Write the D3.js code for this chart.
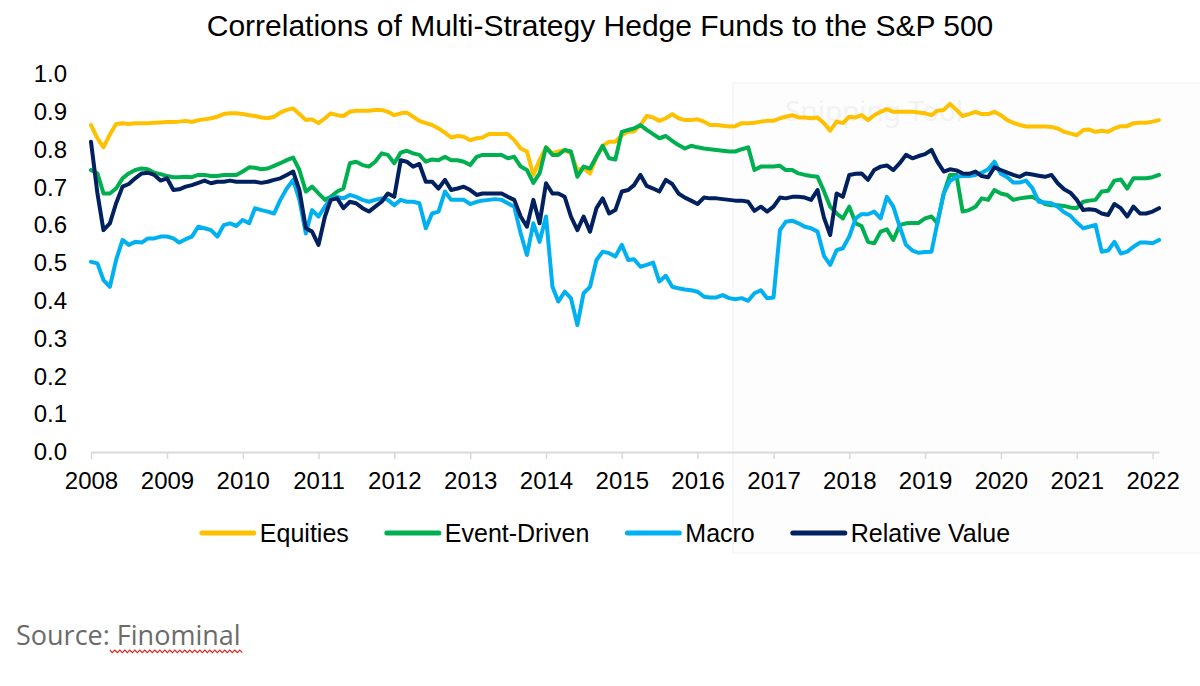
<!DOCTYPE html>
<html>
<head>
<meta charset="utf-8">
<script src="https://cdn.jsdelivr.net/npm/d3@7"></script>
<style>
  html, body { margin: 0; padding: 0; background: #ffffff; }
  svg { display: block; }
</style>
</head>
<body>
<svg id="chart" width="1200" height="686"></svg>
<script>
// ---------------- DATA (monthly, Jan 2008 – Feb 2022) ----------------
const startMonth = "2008-01";
const seriesNames = ["Equities", "Event-Driven", "Macro", "Relative Value"];
const yTickLabels = ["0.0","0.1","0.2","0.3","0.4","0.5","0.6","0.7","0.8","0.9","1.0"];
const xTickYears = [2008,2009,2010,2011,2012,2013,2014,2015,2016,2017,2018,2019,2020,2021,2022];
const titleText = "Correlations of Multi-Strategy Hedge Funds to the S&P 500";
const sourceLabel = "Source: ";
const sourceName = "Finominal";

const equities = [
  0.865,0.830,0.806,0.840,0.868,0.870,0.868,0.870,0.870,0.870,0.871,0.872,
  0.873,0.873,0.874,0.876,0.873,0.878,0.880,0.883,0.887,0.894,0.896,0.896,
  0.894,0.891,0.889,0.885,0.883,0.887,0.898,0.905,0.909,0.894,0.878,0.880,
  0.870,0.883,0.896,0.891,0.889,0.900,0.903,0.903,0.903,0.905,0.905,0.900,
  0.891,0.896,0.898,0.887,0.876,0.870,0.865,0.856,0.845,0.832,0.836,0.834,
  0.825,0.830,0.832,0.841,0.841,0.841,0.841,0.825,0.803,0.795,0.733,0.773,
  0.806,0.790,0.795,0.799,0.790,0.746,0.750,0.737,0.781,0.810,0.821,0.821,
  0.838,0.847,0.848,0.865,0.889,0.885,0.876,0.883,0.894,0.883,0.878,0.878,
  0.880,0.874,0.865,0.865,0.863,0.861,0.862,0.870,0.870,0.871,0.874,0.876,
  0.876,0.883,0.887,0.891,0.885,0.885,0.883,0.885,0.870,0.850,0.874,0.870,
  0.887,0.885,0.891,0.878,0.891,0.900,0.907,0.900,0.900,0.900,0.900,0.898,
  0.896,0.891,0.903,0.905,0.921,0.905,0.889,0.894,0.900,0.894,0.894,0.900,
  0.891,0.878,0.871,0.865,0.861,0.861,0.861,0.861,0.860,0.856,0.847,0.843,
  0.838,0.852,0.853,0.847,0.850,0.847,0.856,0.862,0.862,0.870,0.871,0.871,
  0.874,0.878
];
const eventDriven = [
  0.746,0.737,0.684,0.684,0.697,0.724,0.737,0.746,0.750,0.748,0.739,0.735,
  0.730,0.727,0.727,0.728,0.727,0.733,0.733,0.730,0.730,0.733,0.733,0.733,
  0.742,0.753,0.752,0.748,0.750,0.757,0.764,0.772,0.779,0.746,0.689,0.702,
  0.684,0.667,0.675,0.689,0.697,0.764,0.768,0.759,0.755,0.768,0.790,0.786,
  0.764,0.792,0.797,0.790,0.786,0.768,0.774,0.772,0.781,0.772,0.772,0.768,
  0.759,0.781,0.786,0.786,0.786,0.786,0.777,0.781,0.755,0.746,0.712,0.737,
  0.806,0.786,0.786,0.799,0.795,0.728,0.755,0.750,0.781,0.810,0.777,0.774,
  0.847,0.852,0.856,0.865,0.852,0.841,0.830,0.836,0.823,0.812,0.803,0.810,
  0.806,0.803,0.801,0.799,0.797,0.795,0.795,0.801,0.806,0.746,0.755,0.755,
  0.755,0.757,0.746,0.746,0.737,0.733,0.730,0.728,0.690,0.649,0.631,0.618,
  0.649,0.605,0.598,0.556,0.552,0.583,0.589,0.561,0.600,0.605,0.606,0.606,
  0.618,0.623,0.605,0.684,0.733,0.733,0.636,0.640,0.649,0.671,0.667,0.693,
  0.684,0.680,0.667,0.671,0.673,0.675,0.667,0.656,0.653,0.653,0.651,0.647,
  0.645,0.662,0.665,0.667,0.689,0.691,0.718,0.721,0.697,0.724,0.724,0.724,
  0.727,0.733
];
const macro = [
  0.503,0.499,0.455,0.437,0.508,0.561,0.548,0.556,0.554,0.565,0.565,0.570,
  0.570,0.565,0.554,0.563,0.570,0.596,0.592,0.587,0.570,0.600,0.605,0.598,
  0.614,0.605,0.645,0.640,0.636,0.631,0.667,0.697,0.720,0.667,0.578,0.640,
  0.623,0.649,0.671,0.675,0.671,0.680,0.675,0.667,0.662,0.667,0.671,0.667,
  0.653,0.667,0.662,0.662,0.658,0.592,0.631,0.636,0.689,0.667,0.667,0.667,
  0.656,0.662,0.665,0.667,0.669,0.667,0.658,0.649,0.578,0.521,0.605,0.556,
  0.623,0.437,0.398,0.424,0.407,0.336,0.420,0.437,0.508,0.530,0.526,0.517,
  0.548,0.508,0.510,0.490,0.495,0.501,0.451,0.466,0.437,0.433,0.430,0.428,
  0.424,0.411,0.409,0.409,0.415,0.407,0.404,0.407,0.400,0.420,0.428,0.407,
  0.409,0.587,0.609,0.612,0.605,0.596,0.592,0.583,0.519,0.495,0.534,0.539,
  0.570,0.618,0.629,0.629,0.636,0.618,0.675,0.649,0.596,0.548,0.533,0.527,
  0.529,0.530,0.605,0.684,0.717,0.728,0.730,0.730,0.733,0.739,0.748,0.768,
  0.736,0.727,0.713,0.713,0.718,0.698,0.662,0.660,0.658,0.649,0.634,0.625,
  0.607,0.592,0.596,0.601,0.530,0.533,0.556,0.525,0.530,0.543,0.554,0.554,
  0.552,0.561
];
const relativeValue = [
  0.821,0.684,0.587,0.605,0.658,0.702,0.709,0.724,0.737,0.739,0.733,0.718,
  0.724,0.693,0.695,0.702,0.706,0.712,0.718,0.711,0.715,0.715,0.718,0.715,
  0.715,0.715,0.715,0.712,0.715,0.720,0.724,0.733,0.742,0.693,0.592,0.583,
  0.548,0.623,0.667,0.671,0.645,0.662,0.658,0.645,0.636,0.649,0.662,0.684,
  0.675,0.772,0.768,0.755,0.762,0.715,0.715,0.697,0.720,0.693,0.697,0.702,
  0.693,0.680,0.684,0.684,0.684,0.684,0.675,0.667,0.623,0.596,0.667,0.605,
  0.711,0.684,0.684,0.675,0.623,0.587,0.623,0.583,0.645,0.671,0.631,0.640,
  0.689,0.693,0.706,0.733,0.704,0.697,0.689,0.720,0.709,0.684,0.673,0.665,
  0.656,0.673,0.671,0.671,0.669,0.667,0.665,0.665,0.662,0.638,0.649,0.636,
  0.649,0.673,0.671,0.675,0.675,0.673,0.667,0.693,0.620,0.574,0.684,0.675,
  0.733,0.736,0.737,0.720,0.746,0.755,0.758,0.746,0.764,0.786,0.777,0.783,
  0.788,0.799,0.768,0.742,0.748,0.745,0.737,0.736,0.742,0.730,0.727,0.753,
  0.746,0.739,0.733,0.728,0.737,0.734,0.731,0.728,0.733,0.711,0.695,0.686,
  0.667,0.640,0.642,0.640,0.631,0.627,0.656,0.645,0.623,0.649,0.631,0.631,
  0.636,0.645
];
const seriesColors = ["#FFC000", "#00B050", "#00B0F0", "#002060"];

// ---------------- LAYOUT ----------------
const svg = d3.select("#chart");
const W = 1200, H = 686;
const plot = { left: 91, right: 1159, top: 74, bottom: 452 };

const parseMonth = d3.timeParse("%Y-%m");
const t0 = parseMonth(startMonth);
const dates = equities.map((_, i) => d3.timeMonth.offset(t0, i));

const x = d3.scaleTime()
  .domain([t0, dates[dates.length - 1]])
  .range([plot.left, plot.right]);
const y = d3.scaleLinear().domain([0, 1]).range([plot.bottom, plot.top]);

svg.append("rect").attr("width", W).attr("height", H).attr("fill", "#ffffff");

// faint screenshot-tool overlay seen in the reference
svg.append("rect")
  .attr("x", 733).attr("y", 83).attr("width", 480).attr("height", 470)
  .attr("fill", "#fdfdfd").attr("stroke", "#f5f5f5").attr("stroke-width", 1.5);
svg.append("text")
  .attr("x", 785).attr("y", 121)
  .attr("font-family", "'Segoe UI', 'Noto Sans', 'Open Sans', sans-serif")
  .attr("font-size", 28).attr("fill", "#f2f2f2")
  .text("Snipping Tool");

// Title
svg.append("text")
  .attr("x", 600).attr("y", 36)
  .attr("text-anchor", "middle")
  .attr("font-family", "'Liberation Sans', Arial, sans-serif")
  .attr("font-size", 30).attr("fill", "#000")
  .text(titleText);

// Y axis labels (no line)
const yAxis = d3.axisLeft(y)
  .tickValues(yTickLabels.map(Number))
  .tickFormat((d, i) => yTickLabels[i])
  .tickSize(0).tickPadding(0);
const gy = svg.append("g").attr("transform", `translate(67,0)`).call(yAxis);
gy.select(".domain").remove();
gy.selectAll("text")
  .attr("font-family", "'Liberation Sans', Arial, sans-serif")
  .attr("font-size", 24).attr("fill", "#000").attr("dx", 0);

// X axis
const xAxis = d3.axisBottom(x)
  .tickValues(xTickYears.map(yr => new Date(yr, 0, 1)))
  .tickFormat(d3.timeFormat("%Y"))
  .tickSizeInner(7).tickSizeOuter(0).tickPadding(13);
const gx = svg.append("g").attr("transform", `translate(0,${plot.bottom})`).call(xAxis);
gx.select(".domain").attr("stroke", "#d9d9d9").attr("stroke-width", 2);
gx.selectAll(".tick line").attr("stroke", "#d9d9d9").attr("stroke-width", 1.5);
gx.selectAll("text")
  .attr("font-family", "'Liberation Sans', Arial, sans-serif")
  .attr("font-size", 24).attr("fill", "#000");

// Lines
const allSeries = [equities, eventDriven, macro, relativeValue];
const line = d3.line()
  .x((d, i) => x(dates[i]))
  .y(d => y(d));
allSeries.forEach((vals, k) => {
  svg.append("path")
    .datum(vals)
    .attr("fill", "none")
    .attr("stroke", seriesColors[k])
    .attr("stroke-width", 4)
    .attr("stroke-linejoin", "round")
    .attr("stroke-linecap", "round")
    .attr("d", line);
});

// Legend
const legend = svg.append("g");
const legendY = 533, swatch = 52, gapText = 6, gapItem = 38;
const items = legend.selectAll("g").data(seriesNames).join("g");
items.append("line")
  .attr("x1", 0).attr("x2", swatch).attr("y1", 0).attr("y2", 0)
  .attr("stroke", (d, i) => seriesColors[i])
  .attr("stroke-width", 5).attr("stroke-linecap", "round");
items.append("text")
  .attr("x", swatch + gapText).attr("y", 0).attr("dy", "0.35em")
  .attr("font-family", "'Liberation Sans', Arial, sans-serif")
  .attr("font-size", 25).attr("fill", "#000")
  .text(d => d);
let cursor = 0;
items.each(function () {
  const g = d3.select(this);
  const tw = g.select("text").node().getComputedTextLength();
  g.attr("transform", `translate(${cursor},${legendY})`);
  cursor += swatch + gapText + tw + gapItem;
});
const totalW = cursor - gapItem;
legend.attr("transform", `translate(${606 - totalW / 2},0)`);

// Source
const srcFont = "'Open Sans', 'Noto Sans', sans-serif";
const src = svg.append("text")
  .attr("x", 16).attr("y", 645)
  .attr("font-family", srcFont)
  .attr("font-size", 27).attr("fill", "#6b6b6b");
src.append("tspan").text(sourceLabel);
src.append("tspan").text(sourceName);

// red spell-check squiggle under the source name
const srcLen = src.node().getComputedTextLength();
const tmp = svg.append("text").attr("font-family", srcFont).attr("font-size", 27).text(sourceLabel);
const labelLen = tmp.node().getComputedTextLength();
tmp.remove();
const sx0 = 16 + labelLen, sx1 = 16 + srcLen + 4, sy = 650;
const pts = [];
for (let xx = sx0, k = 0; xx <= sx1; xx += 2.5, k++) pts.push([xx, sy + (k % 2 === 0 ? 0 : 2.6)]);
svg.append("path")
  .attr("d", d3.line()(pts))
  .attr("fill", "none").attr("stroke", "#e02020").attr("stroke-width", 1.1);
</script>
</body>
</html>
